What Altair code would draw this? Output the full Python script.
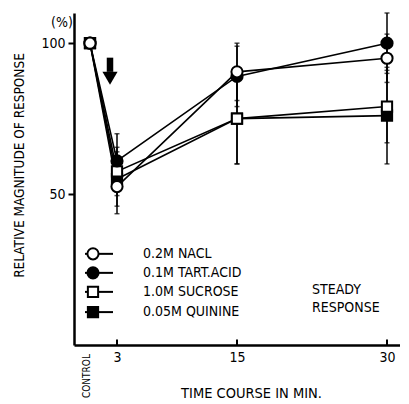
import altair as alt
import pandas as pd

FONT = "DejaVu Sans Condensed, Liberation Sans Narrow, DejaVu Sans, sans-serif"

# ---- data ----
times = [0.3, 3, 15, 30]
series_names = ["0.2M NACL", "0.1M TART.ACID", "1.0M SUCROSE", "0.05M QUININE"]
series_shapes = ["circle", "circle", "square", "square"]
series_fills = ["open", "filled", "open", "filled"]
nacl = [100, 52.5, 90.5, 95]
tart = [100, 61, 89, 100]
sucrose = [100, 57.5, 75, 79]
quinine = [100, 55, 75, 76]
nacl_err = [0, 9, 9.5, 8]
tart_err = [0, 9, 10, 10]
sucrose_err = [0, 8, 15, 12]
quinine_err = [0, 9, 15, 16]
xtick_values = [3, 15, 30]
ytick_values = [50, 100]
legend_y = [30.2, 23.9, 17.6, 10.9]

rows = []
for name, shp, fl, vals, errs in zip(series_names, series_shapes, series_fills,
                                     [nacl, tart, sucrose, quinine],
                                     [nacl_err, tart_err, sucrose_err, quinine_err]):
    for t, v, e in zip(times, vals, errs):
        rows.append({"series": name, "shape": shp, "fill": fl, "t": t, "v": v,
                     "lo": v - e, "hi": v + e, "err": e})
df = pd.DataFrame(rows)
df_err = df[df["err"] > 0]
df_pts = df.iloc[::-1].reset_index(drop=True)  # NaCl drawn last (on top)

leg = pd.DataFrame({"series": series_names, "shape": series_shapes, "fill": series_fills,
                    "y": legend_y, "x0": [-0.2] * 4, "x1": [2.6] * 4, "xs": [0.6] * 4,
                    "xt": [5.6] * 4})

xscale = alt.Scale(domain=[-1.3, 31.3], nice=False, zero=False)
yscale = alt.Scale(domain=[0, 110], nice=False)
shape_scale = alt.Scale(domain=["circle", "square"], range=["circle", "square"])
fill_scale = alt.Scale(domain=["open", "filled"], range=["white", "black"])
size_scale = alt.Scale(domain=["circle", "square"], range=[125, 105])

X = alt.X("t:Q", scale=xscale,
          axis=alt.Axis(values=xtick_values, ticks=False, grid=False, labelFontSize=14,
                        labelPadding=5, domainWidth=2.5, domainColor="black",
                        labelColor="black", labelFont=FONT,
                        title="TIME COURSE IN MIN.", titleFont=FONT, titleFontSize=14.5,
                        titleFontWeight="normal", titleX=177, titleY=48,
                        titleAlign="center", titleBaseline="middle", titleColor="black"))
Y = alt.Y("v:Q", scale=yscale,
          axis=alt.Axis(values=ytick_values, tickSize=6, tickWidth=2, tickColor="black",
                        grid=False, labelFontSize=14, labelPadding=3, domainWidth=2.5,
                        domainColor="black", labelColor="black", labelFont=FONT,
                        title="RELATIVE MAGNITUDE OF RESPONSE", titleFont=FONT,
                        titleFontSize=13.5, titleFontWeight="normal", titleAngle=270,
                        titleX=-55, titleY=152, titleAlign="center",
                        titleBaseline="middle", titleColor="black"))

lines = alt.Chart(df).mark_line(color="black", strokeWidth=1.6).encode(
    x=X, y=Y, detail="series:N", order="t:Q")

ebars = alt.Chart(df_err).mark_rule(color="black", strokeWidth=1.5).encode(
    x=alt.X("t:Q", scale=xscale), y=alt.Y("lo:Q", scale=yscale), y2="hi:Q")
caps_hi = alt.Chart(df_err).mark_tick(color="black", orient="horizontal", size=5,
                                      thickness=1.5).encode(
    x=alt.X("t:Q", scale=xscale), y=alt.Y("hi:Q", scale=yscale))
caps_lo = alt.Chart(df_err).mark_tick(color="black", orient="horizontal", size=5,
                                      thickness=1.5).encode(
    x=alt.X("t:Q", scale=xscale), y=alt.Y("lo:Q", scale=yscale))

points = alt.Chart(df_pts).mark_point(stroke="black", strokeWidth=2, opacity=1).encode(
    x=alt.X("t:Q", scale=xscale), y=alt.Y("v:Q", scale=yscale),
    shape=alt.Shape("shape:N", scale=shape_scale, legend=None),
    fill=alt.Fill("fill:N", scale=fill_scale, legend=None),
    size=alt.Size("shape:N", scale=size_scale, legend=None))

# x ticks pointing inward
xt = pd.DataFrame({"t": xtick_values, "y0": [0] * 3, "y1": [1.8] * 3})
xticks = alt.Chart(xt).mark_rule(color="black", strokeWidth=2).encode(
    x=alt.X("t:Q", scale=xscale), y=alt.Y("y0:Q", scale=yscale), y2="y1:Q")

# arrow
arrow_df = pd.DataFrame({"x": [2.3], "y0": [95.2], "y1": [90.5], "yh": [88.4]})
shaft = alt.Chart(arrow_df).mark_rule(color="black", strokeWidth=6.5).encode(
    x=alt.X("x:Q", scale=xscale), y=alt.Y("y0:Q", scale=yscale), y2="y1:Q")
head = alt.Chart(arrow_df).mark_point(shape="triangle-down", filled=True, color="black",
                                      size=230, opacity=1).encode(
    x=alt.X("x:Q", scale=xscale), y=alt.Y("yh:Q", scale=yscale))

# legend
leg_lines = alt.Chart(leg).mark_rule(color="black", strokeWidth=2).encode(
    x=alt.X("x0:Q", scale=xscale), x2="x1:Q", y=alt.Y("y:Q", scale=yscale))
leg_pts = alt.Chart(leg).mark_point(stroke="black", strokeWidth=2, opacity=1).encode(
    x=alt.X("xs:Q", scale=xscale), y=alt.Y("y:Q", scale=yscale),
    shape=alt.Shape("shape:N", scale=shape_scale, legend=None),
    fill=alt.Fill("fill:N", scale=fill_scale, legend=None),
    size=alt.Size("shape:N", scale=size_scale, legend=None))
leg_text = alt.Chart(leg).mark_text(align="left", baseline="middle", font=FONT,
                                    fontSize=14, color="black").encode(
    x=alt.X("xt:Q", scale=xscale), y=alt.Y("y:Q", scale=yscale), text="series:N")

notes = pd.DataFrame({"text": ["STEADY", "RESPONSE", "(%)"],
                      "x": [22.5, 22.5, -3.6], "y": [18.2, 12.3, 106.8]})
note_text = alt.Chart(notes).mark_text(align="left", baseline="middle", font=FONT,
                                       fontSize=14, color="black").encode(
    x=alt.X("x:Q", scale=xscale), y=alt.Y("y:Q", scale=yscale), text="text:N")

ctrl = pd.DataFrame({"text": ["CONTROL"], "x": [0.0], "y": [-3.0]})
ctrl_text = alt.Chart(ctrl).mark_text(align="right", baseline="middle", font=FONT,
                                      fontSize=10, angle=270, color="black").encode(
    x=alt.X("x:Q", scale=xscale), y=alt.Y("y:Q", scale=yscale), text="text:N")

chart = alt.layer(lines, ebars, caps_hi, caps_lo, points, xticks, shaft, head,
                  leg_lines, leg_pts, leg_text, note_text, ctrl_text).properties(
    width=326, height=332,
    autosize=alt.AutoSizeParams(type="none"),
    padding={"left": 66, "top": 5, "right": 0, "bottom": 59},
    background="white",
).configure_view(stroke=None)

chart.save("out.html", embed_options={"renderer": "svg", "actions": False})
